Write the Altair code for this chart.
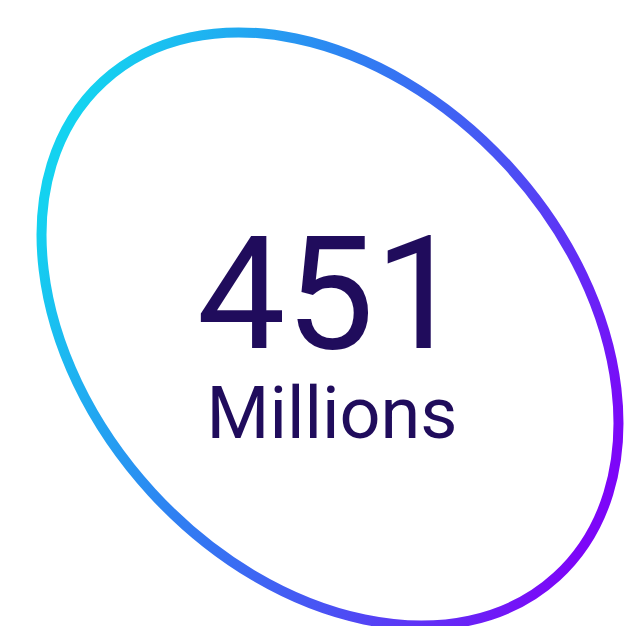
import altair as alt
import pandas as pd

# Content of the infographic
values = ["451"]
units = ["Millions"]

df = pd.DataFrame({"value": values, "unit": units})

# Tilted ellipse outline as a custom symbol path (unit coordinates)
ring_path = ("M 0.6756 0.7373 A 1 0.72 47.5 0 1 -0.6756 -0.7373 "
             "A 1 0.72 47.5 0 1 0.6756 0.7373 Z")

gradient = alt.LinearGradient(
    gradient="linear",
    stops=[
        alt.GradientStop(color="#14d2f0", offset=0),
        alt.GradientStop(color="#2f7ff2", offset=0.38),
        alt.GradientStop(color="#4c4ef4", offset=0.68),
        alt.GradientStop(color="#7d06f8", offset=1),
    ],
    x1=0, x2=1, y1=0.3, y2=0.7,
)

base = alt.Chart(df)

ring = base.mark_point(
    shape=ring_path,
    filled=False,
    stroke=gradient,
    strokeWidth=10,
    opacity=1,
    size=450800,
).encode(x=alt.value(322), y=alt.value(321))

num = base.mark_text(
    font="Roboto",
    fontSize=158,
    color="#200c5c",
    align="center",
    baseline="alphabetic",
).encode(x=alt.value(322), y=alt.value(340), text="value:N")

unit = base.mark_text(
    font="Roboto",
    fontSize=72,
    color="#200c5c",
    align="center",
    baseline="alphabetic",
).encode(x=alt.value(324), y=alt.value(430), text="unit:N")

chart = (
    alt.layer(ring, num, unit)
    .properties(width=619, height=618, padding=0, autosize="none", background="white")
    .configure_view(strokeWidth=0)
)

chart.save("out.html", embed_options={"renderer": "svg", "actions": False})
